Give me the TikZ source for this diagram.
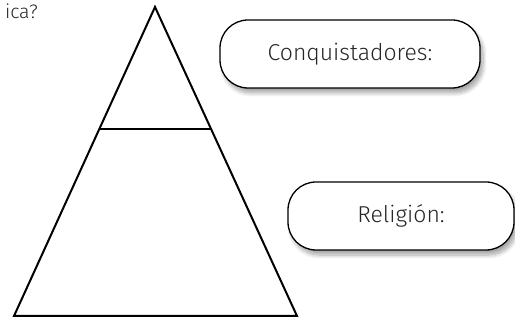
\documentclass[tikz,border=0pt]{standalone}
\usepackage{fontspec}
\setmainfont{Fira Sans Light}
\usetikzlibrary{shadows,shadows.blur,calc}
\begin{document}
\begin{tikzpicture}[x=1pt,y=-1pt,
  lbox/.style={draw=black,line width=1.3pt,rounded corners=28pt,fill=white,
    blur shadow={shadow xshift=3pt,shadow yshift=-5pt,shadow opacity=35,shadow blur steps=8,shadow blur radius=4pt},
    font=\fontsize{23}{26}\selectfont,text=black!85},
  tri/.style={draw=black,line width=2pt,line join=miter}]
\useasboundingbox (0,0) rectangle (515,320);
\node[anchor=north east,inner sep=0pt,font=\fontsize{19.5}{22}\selectfont,text=black!85] (q) at (38,4) {ica?};
\coordinate (apex) at (155,7);
\coordinate (bl) at (14,316);
\coordinate (br) at (297,316);
\draw[tri] (apex) -- (bl) -- (br) -- cycle;
\coordinate (ml) at ($(apex)!0.395!(bl)$);
\coordinate (mr) at ($(apex)!0.395!(br)$);
\draw[tri] (ml) -- (mr);
\node[lbox,minimum width=260pt,minimum height=68pt] (c) at (350,54) {Conquistadores:};
\node[lbox,minimum width=226pt,minimum height=68pt] (r) at (401,216) {Religión:};
\end{tikzpicture}
\end{document}
